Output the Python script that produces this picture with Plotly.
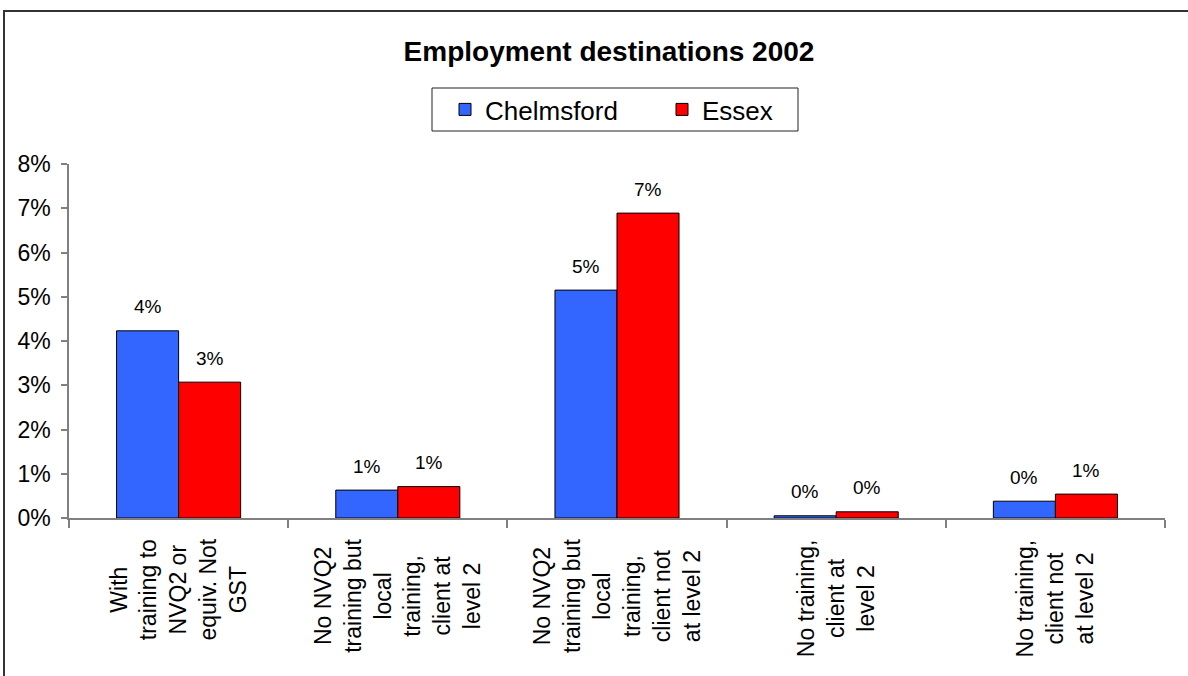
import plotly.graph_objects as go

categories = [
    "With<br>training to<br>NVQ2 or<br>equiv. Not<br>GST",
    "No NVQ2<br>training but<br>local<br>training,<br>client at<br>level 2",
    "No NVQ2<br>training but<br>local<br>training,<br>client not<br>at level 2",
    "No training,<br>client at<br>level 2",
    "No training,<br>client not<br>at level 2",
]
chelmsford = [0.0423, 0.0063, 0.0515, 0.0005, 0.0038]
essex = [0.0307, 0.0071, 0.0689, 0.0014, 0.0054]
series_names = ["Chelmsford", "Essex"]
y_ticks = [0, 0.01, 0.02, 0.03, 0.04, 0.05, 0.06, 0.07, 0.08]

FONT = "Arial, Liberation Sans, sans-serif"
BLUE = "#3366FF"
RED = "#FF0000"

L, R, T, B = 69, 23, 164, 158
W, H = 1188, 676
pw, ph = W - L - R, H - T - B


def px(X):
    return (X - L) / pw


def py(Y):
    return (H - B - Y) / ph


fig = go.Figure()
fig.add_trace(go.Bar(x=categories, y=chelmsford, name=series_names[0], legend="legend",
                     marker=dict(color=BLUE, line=dict(color="black", width=1))))
fig.add_trace(go.Bar(x=categories, y=essex, name=series_names[1], legend="legend2",
                     marker=dict(color=RED, line=dict(color="black", width=1))))

annotations = []
# data labels
for vals, shift in ((chelmsford, -31), (essex, 31)):
    for c, v in zip(categories, vals):
        annotations.append(dict(x=c, y=v, xref="x", yref="y", xshift=shift, yshift=24,
                                text=f"{v:.0%}", showarrow=False, yanchor="middle",
                                font=dict(family=FONT, size=19, color="black")))
# category labels
for c in categories:
    annotations.append(dict(x=c, y=py(537), xref="x", yref="paper", text=c,
                            showarrow=False, textangle=-90, align="center",
                            xanchor="center", yanchor="top",
                            font=dict(family=FONT, size=23, color="black")))

legend_common = dict(orientation="h", xanchor="left", yanchor="top",
                     bgcolor="rgba(0,0,0,0)", borderwidth=0,
                     font=dict(family=FONT, size=26, color="black"))

fig.update_layout(
    width=W, height=H,
    margin=dict(l=L, r=R, t=T, b=B, pad=0),
    paper_bgcolor="white", plot_bgcolor="white",
    barmode="group", bargap=0.434, bargroupgap=0,
    title=dict(text="<b>Employment destinations 2002</b>", x=px(609), xref="paper",
               xanchor="center", y=1 - 51 / H, yref="container", yanchor="middle",
               font=dict(family=FONT, size=28, color="black")),
    legend=dict(x=px(445), y=py(86), **legend_common),
    legend2=dict(x=px(662), y=py(86), **legend_common),
    annotations=annotations,
    shapes=[
        dict(type="rect", xref="paper", yref="paper",
             x0=px(4), x1=px(1195), y0=py(690), y1=py(11),
             line=dict(color="#333333", width=2), fillcolor="rgba(0,0,0,0)", layer="below"),
        dict(type="rect", xref="paper", yref="paper",
             x0=px(432), x1=px(798), y0=py(131), y1=py(88),
             line=dict(color="#222222", width=1), fillcolor="white", layer="below"),
    ],
    showlegend=True,
)
fig.update_xaxes(showticklabels=False, tickson="boundaries", ticks="outside", ticklen=8,
                 tickcolor="#808080", tickwidth=1.5, showline=True, linecolor="#808080",
                 linewidth=1.5, showgrid=False, zeroline=False)
fig.update_yaxes(range=[0, 0.08], tickvals=y_ticks, tickformat=".0%", ticks="outside",
                 ticklen=6, tickcolor="#808080", tickwidth=1.5, showline=True,
                 linecolor="#808080", linewidth=1.5, showgrid=False, zeroline=False,
                 ticklabelstandoff=6, tickfont=dict(family=FONT, size=23, color="black"))

fig.write_html("out.html", config={"displayModeBar": False},
               post_script="document.body.style.margin='0';document.body.style.overflow='hidden';")
